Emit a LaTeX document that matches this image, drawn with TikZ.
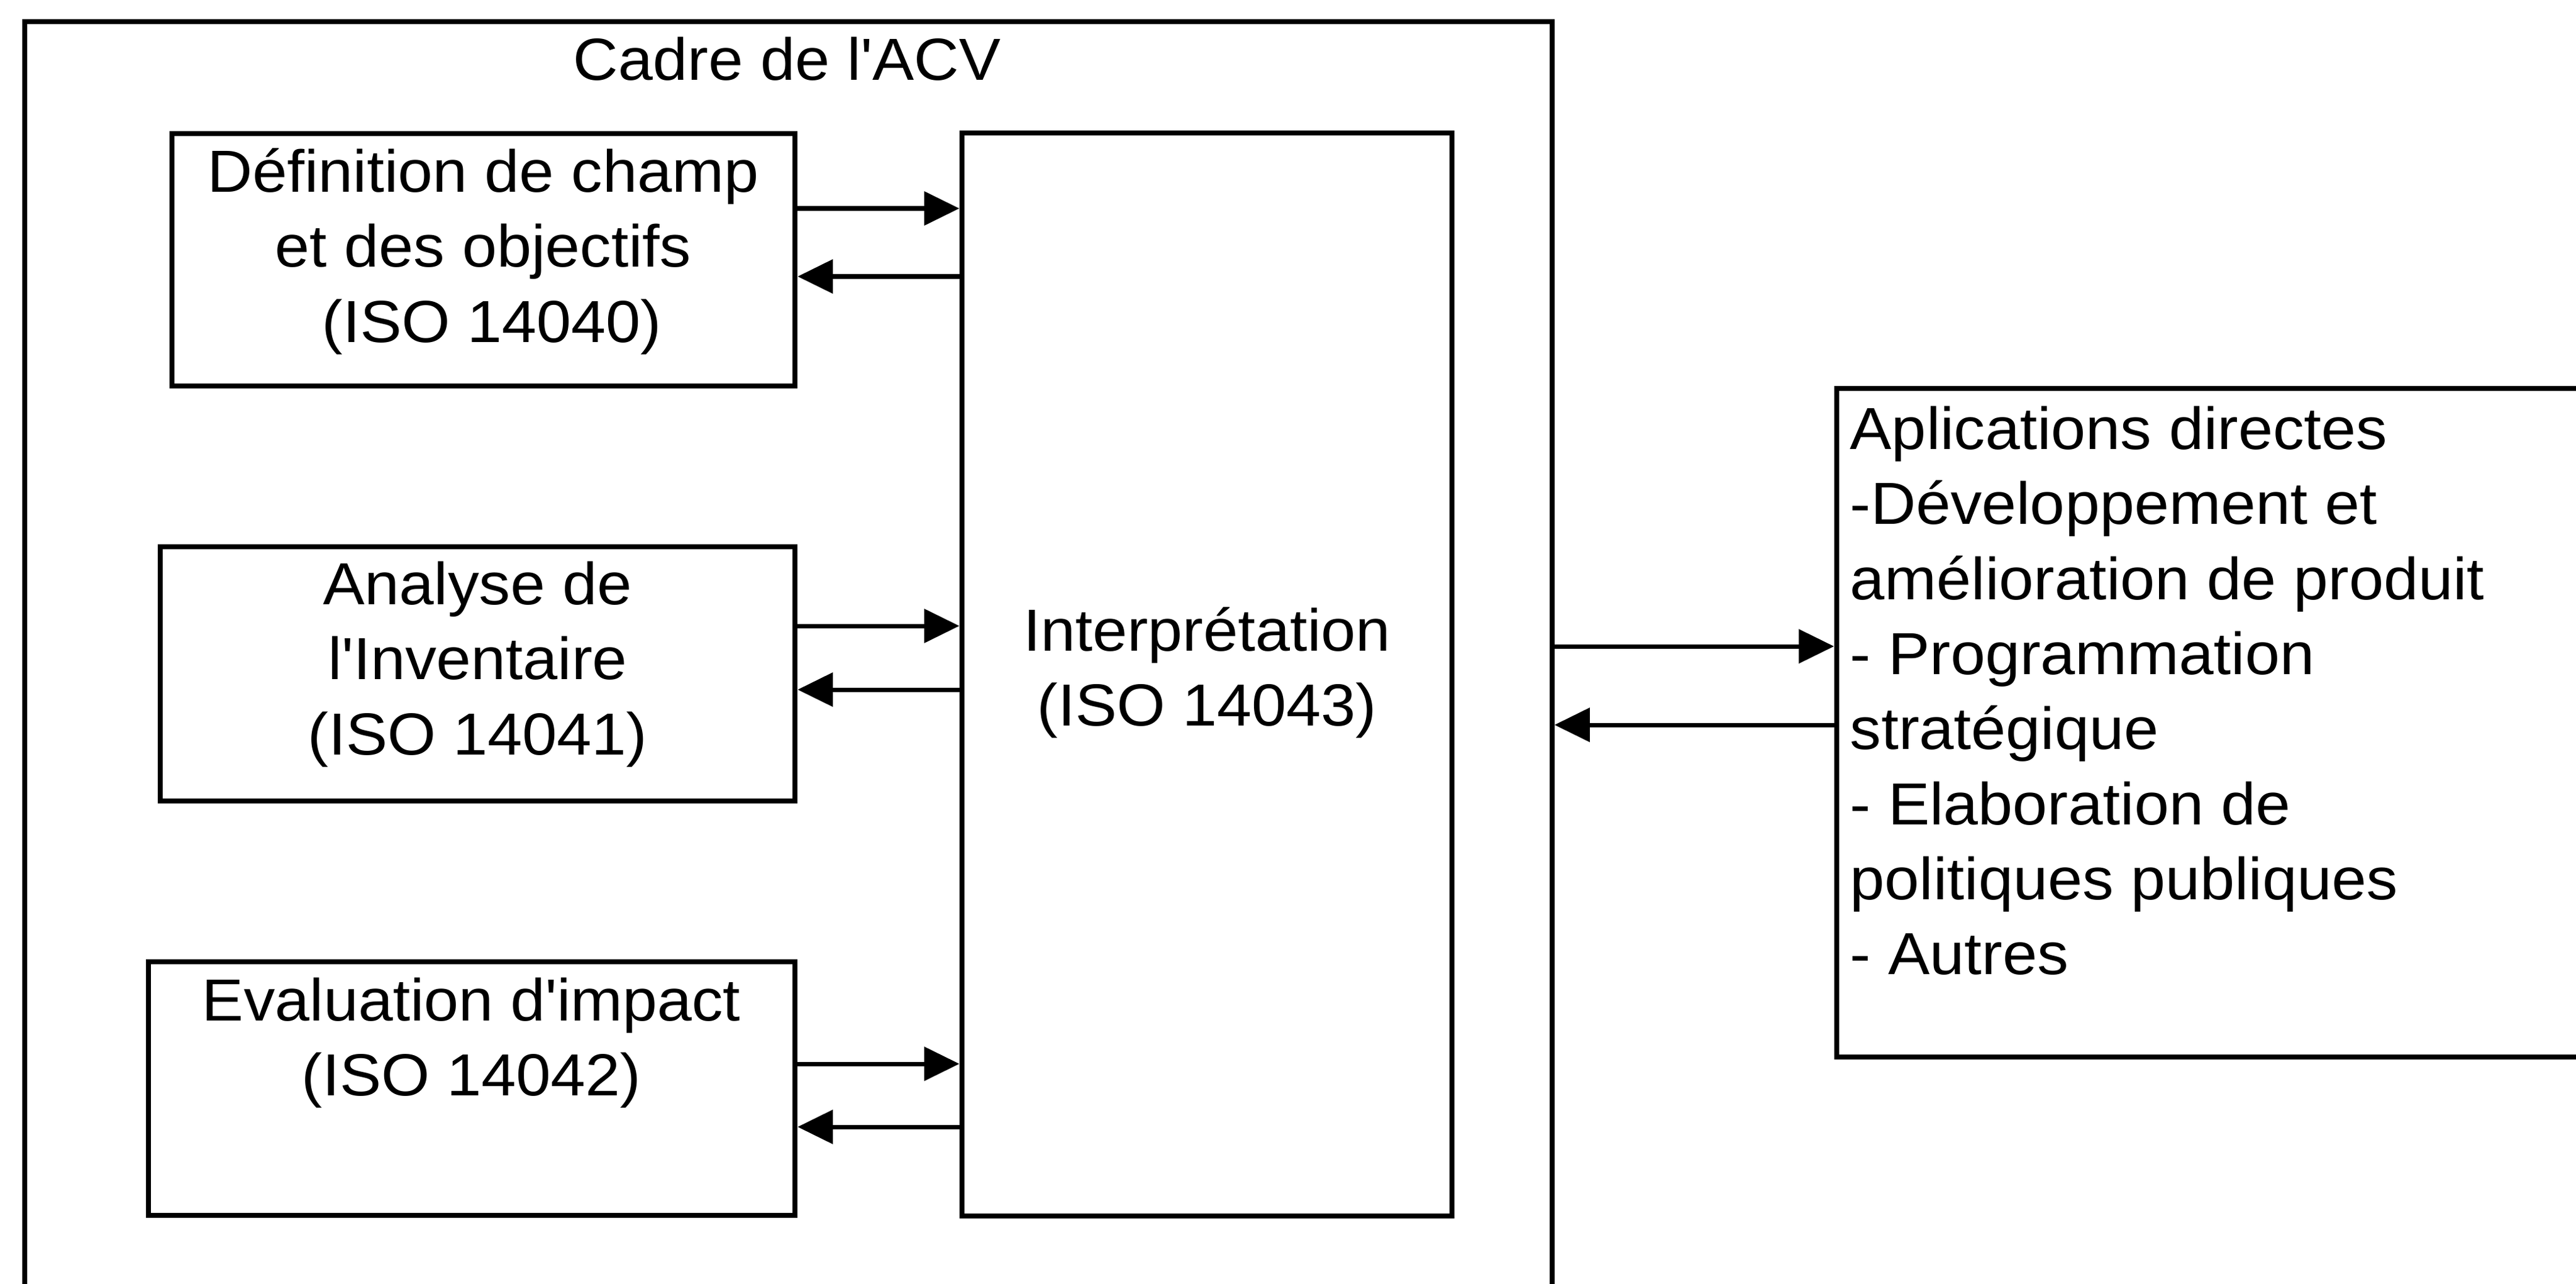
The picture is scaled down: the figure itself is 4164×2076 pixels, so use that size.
\documentclass[tikz,border=0pt]{standalone}
\usepackage{fontspec}
\setmainfont{Liberation Sans}[FakeStretch=1.05]
\usetikzlibrary{arrows.meta}
\begin{document}
\begin{tikzpicture}[x=0.01cm,y=-0.01cm,
  box/.style={draw, line width=0.08cm, rectangle, inner sep=0pt, outer sep=0.04cm},
  txt/.style={inner sep=0pt, align=center, font=\fontsize{27.3pt}{34.5pt}\selectfont},
  arr/.style={line width=0.07cm, -{Triangle[length=0.57cm,width=0.54cm]}}]
\useasboundingbox (0,0) rectangle (4164,2076);
\fill[white] (0,0) rectangle (4164,2076);
\clip (0,0) rectangle (4164,2076);

% boxes
\node[box, minimum width=24.67cm, minimum height=22.14cm] (cadre) at (1274.5,1143) {};
\node[box, minimum width=10.07cm, minimum height=4.08cm] (def) at (781.5,420) {};
\node[box, minimum width=10.26cm, minimum height=4.11cm] (ana) at (772,1089.5) {};
\node[box, minimum width=10.45cm, minimum height=4.10cm] (eval) at (762.5,1760) {};
\node[box, minimum width=7.92cm, minimum height=17.49cm] (interp) at (1951,1090.5) {};
\node[box, minimum width=13.31cm, minimum height=10.81cm] (app) at (3634.5,1168.5) {};

% texts
\node[txt, anchor=north] (cadret) at (1272,44) {\strut Cadre de l\textquotesingle ACV};
\node[txt, anchor=north] (deft) at (781,225) {\strut Définition de champ\\et des objectifs\\~(ISO 14040)};
\node[txt, anchor=north] (anat) at (772,892) {\strut Analyse de\\l\textquotesingle Inventaire\\(ISO 14041)};
\node[txt, anchor=north] (evalt) at (762,1565) {\strut Evaluation d\textquotesingle impact\\(ISO 14042)};
\node[txt, anchor=north] (interpt) at (1951,967) {\strut Interprétation\\(ISO 14043)};
\node[txt, align=left, anchor=north west] (appt) at (2990,641) {\strut Aplications directes\\-Développement et\\amélioration de produit\\- Programmation\\stratégique\\- Elaboration de\\politiques publiques\\- Autres};

% arrow levels
\coordinate (a1) at (0,337);
\coordinate (a2) at (0,447);
\coordinate (b1) at (0,1012);
\coordinate (b2) at (0,1115);
\coordinate (c1) at (0,1720);
\coordinate (c2) at (0,1822);
\coordinate (d1) at (0,1045);
\coordinate (d2) at (0,1172);

\draw[arr] (def.east |- a1) -- (interp.west |- a1);
\draw[arr] (interp.west |- a2) -- (def.east |- a2);
\draw[arr] (ana.east |- b1) -- (interp.west |- b1);
\draw[arr] (interp.west |- b2) -- (ana.east |- b2);
\draw[arr] (eval.east |- c1) -- (interp.west |- c1);
\draw[arr] (interp.west |- c2) -- (eval.east |- c2);
\draw[arr] (cadre.east |- d1) -- (app.west |- d1);
\draw[arr] (app.west |- d2) -- (cadre.east |- d2);
\end{tikzpicture}
\end{document}
